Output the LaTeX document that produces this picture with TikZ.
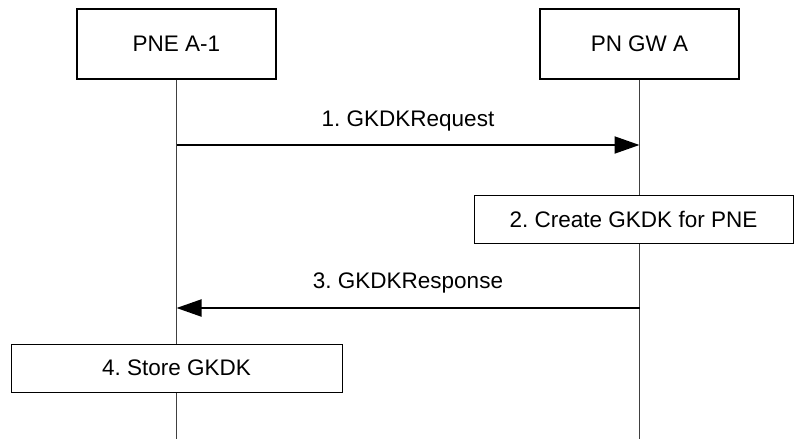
\documentclass[tikz,border=0pt]{standalone}
\usepackage{fontspec}
\setmainfont{Liberation Sans}
\usetikzlibrary{arrows.meta}
\frenchspacing
\begin{document}
\begin{tikzpicture}[x=1pt,y=-1pt,
  every node/.style={font=\fontsize{22.5}{27}\selectfont},
  entity/.style={draw,line width=1.3pt,minimum width=199pt,minimum height=70pt,inner sep=0pt},
  actbox/.style={draw,line width=1pt,minimum height=48pt,inner sep=0pt},
  lifeline/.style={draw=black!75,line width=1pt},
  msg/.style={line width=2pt,-{Triangle[length=25pt,width=17pt]}},
  lbl/.style={inner sep=0pt}]
\useasboundingbox (0,0) rectangle (795,439);
\node[entity] (A) at (176.5,44) {PNE A-1};
\node[entity] (B) at (639.5,44) {PN GW A};
\coordinate (Aend) at (176.5,439);
\coordinate (Bend) at (639.5,439);
\draw[lifeline] (A.south) -- (Aend);
\draw[lifeline] (B.south) -- (Bend);
\node[actbox,fill=white,minimum width=319pt] (S2) at (633.5,219.5) {2. Create GKDK for PNE};
\node[actbox,fill=white,minimum width=331pt] (S4) at (176.5,368) {4. Store GKDK};
\coordinate (m1a) at (176.5,145);
\coordinate (m1b) at (639.5,145);
\coordinate (m3a) at (639.5,308);
\coordinate (m3b) at (176.5,308);
\draw[msg] (m1a) -- node[lbl,above=13pt] (L1) {1. GKDKRequest} (m1b);
\draw[msg] (m3a) -- node[lbl,above=14pt] (L3) {3. GKDKResponse} (m3b);
\end{tikzpicture}
\end{document}
